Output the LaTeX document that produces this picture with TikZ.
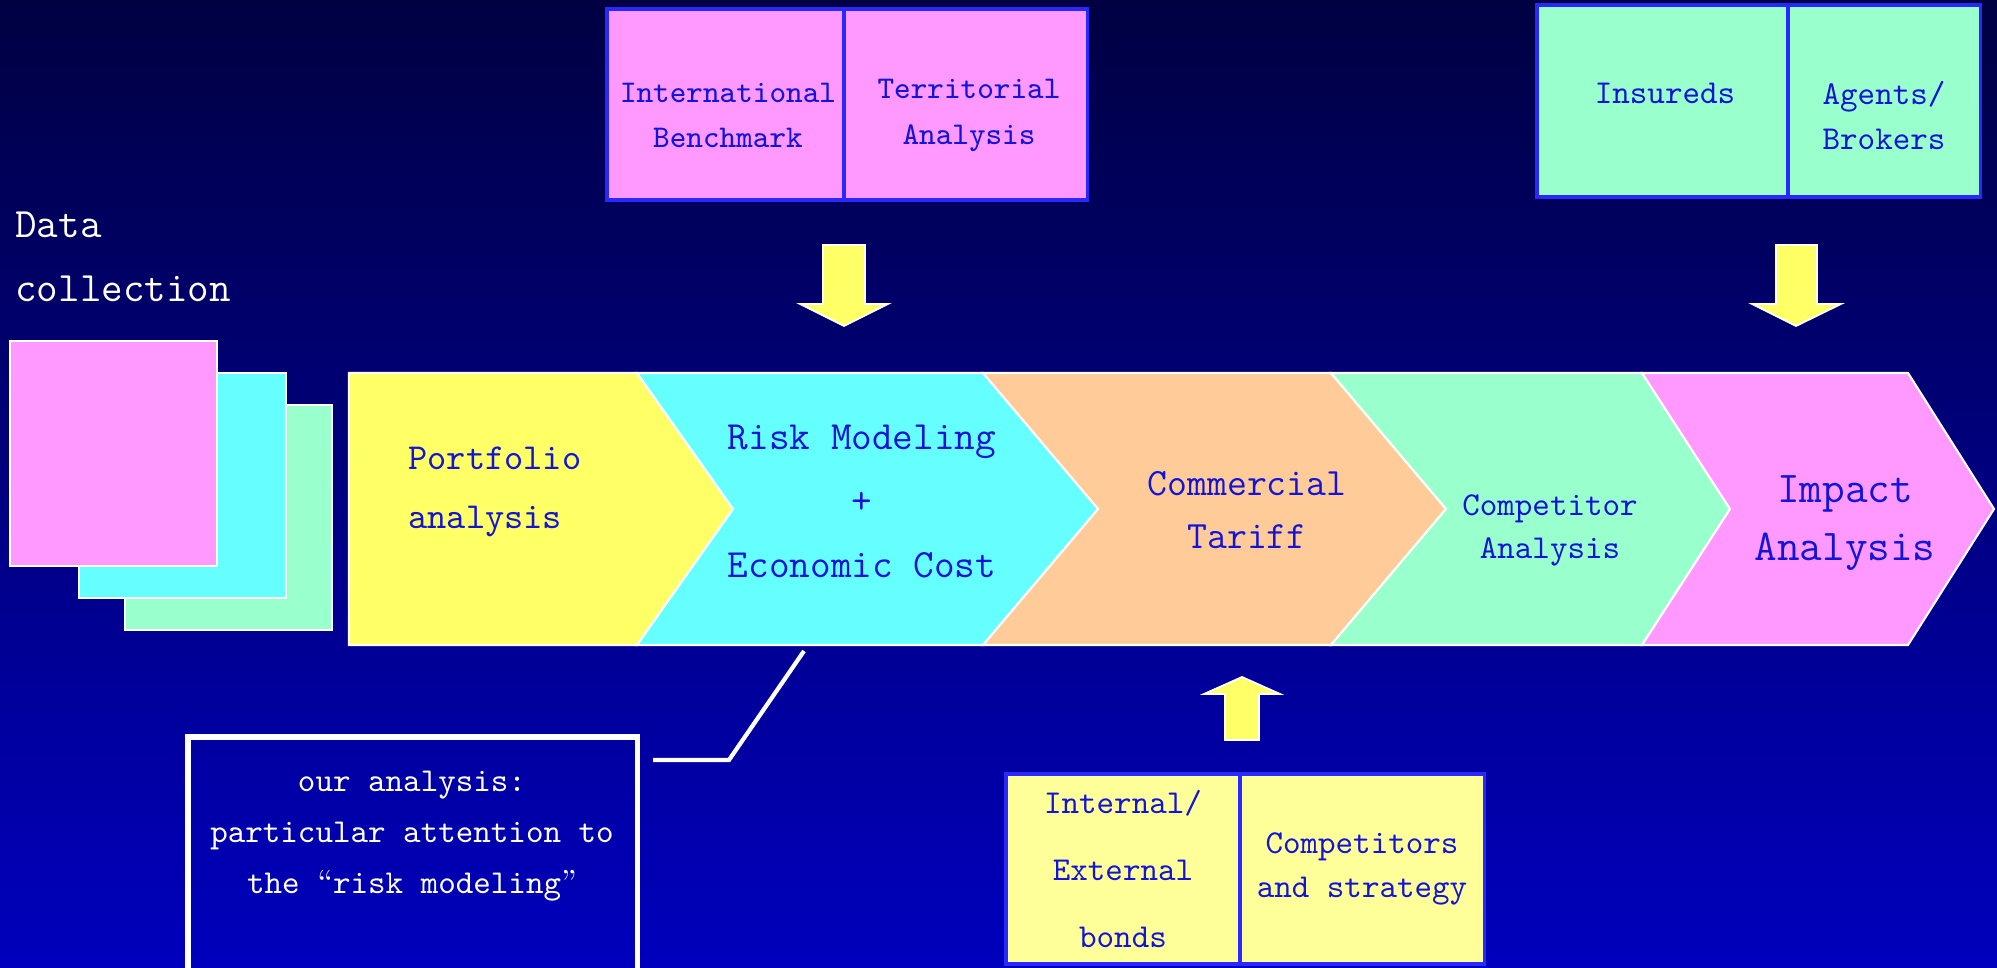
\documentclass[tikz,border=0pt]{standalone}
\usepackage{tikz}
\definecolor{bgtop}{RGB}{0,0,66}
\definecolor{bgmid}{RGB}{0,0,128}
\definecolor{bgbot}{RGB}{0,0,190}
\definecolor{pinkfill}{RGB}{255,153,255}
\definecolor{cyanfill}{RGB}{102,255,255}
\definecolor{yellowfill}{RGB}{255,255,102}
\definecolor{peachfill}{RGB}{255,204,153}
\definecolor{greenfill}{RGB}{153,255,204}
\definecolor{paleyellow}{RGB}{255,255,153}
\definecolor{boxline}{RGB}{40,40,255}
\definecolor{inkblue}{RGB}{20,20,215}

\begin{document}
\begin{tikzpicture}[x=0.01cm, y=-0.01cm,
  chev/.style={draw=white, line width=0.6pt},
  sheet/.style={draw=white, line width=0.8pt},
  blockarrow/.style={draw=white, line width=0.5pt, fill=yellowfill},
  infobox/.style={draw=boxline, line width=0.9pt, inner sep=0pt, text=inkblue, align=center},
  boxtext/.style={text=inkblue, align=center},
  stagetext/.style={text=inkblue, align=center},
  notebox/.style={draw=white, line width=1.5pt, minimum width=4.49cm, minimum height=2.38cm},
  callout/.style={draw=white, line width=1.2pt}]
\useasboundingbox (0,0) rectangle (1997,968);
\shade[top color=bgtop, middle color=bgmid, bottom color=bgbot] (0,0) rectangle (1997,968);

% sources above and below the chain
\node[infobox, fill=pinkfill, minimum width=2.37cm, minimum height=1.91cm] (intl) at (725.5,104.5) {};
\node[infobox, fill=pinkfill, minimum width=2.43cm, minimum height=1.91cm] (terr) at (965.5,104.5) {};
\node[boxtext, font=\ttfamily\fontsize{9pt}{13pt}\selectfont] (intltext) at (728,115.5) {International\\Benchmark};
\node[boxtext, font=\ttfamily\fontsize{9pt}{13pt}\selectfont] (terrtext) at (969,115.5) {Territorial\\Analysis};

\node[infobox, fill=greenfill, minimum width=2.51cm, minimum height=1.92cm] (insured) at (1662.5,101) {};
\node[infobox, fill=greenfill, minimum width=1.92cm, minimum height=1.92cm] (agents) at (1884,101) {};
\node[boxtext, font=\ttfamily\fontsize{9.5pt}{13pt}\selectfont] (insuredtext) at (1665,93) {Insureds};
\node[boxtext, font=\ttfamily\fontsize{9.5pt}{13pt}\selectfont] (agentstext) at (1884,115.5) {Agents/\\Brokers};

\node[infobox, fill=paleyellow, minimum width=2.34cm, minimum height=1.9cm, font=\ttfamily\fontsize{9.5pt}{19pt}\selectfont] (bonds) at (1123,869) {Internal/\\External\\bonds};
\node[infobox, fill=paleyellow, minimum width=2.44cm, minimum height=1.9cm, font=\ttfamily\fontsize{9.5pt}{12.5pt}\selectfont] (rivals) at (1362,869) {Competitors\\and strategy};

% yellow block arrows
\draw[blockarrow] (823,245) -- (865,245) -- (865,304) -- (888,304) -- (844,326) -- (800,304) -- (823,304) -- cycle;
\draw[blockarrow] (1776,245) -- (1817,245) -- (1817,304) -- (1841,304) -- (1796,326) -- (1752,304) -- (1776,304) -- cycle;
\draw[blockarrow] (1225,740) -- (1259,740) -- (1259,694) -- (1280,694) -- (1242,677) -- (1204,694) -- (1225,694) -- cycle;

% data sheets
\node[text=white, anchor=west, align=left, font=\ttfamily\fontsize{11.9pt}{18.2pt}\selectfont] (datalabel) at (3,257) {Data\\collection};
\draw[sheet, fill=greenfill] (125,405) rectangle (332,630);
\draw[sheet, fill=cyanfill] (79,373) rectangle (286,598);
\draw[sheet, fill=pinkfill] (10,341) rectangle (217,566);

% the chain
\draw[chev, fill=yellowfill] (349,373) -- (637,373) -- (733,509) -- (637,645) -- (349,645) -- cycle;
\draw[chev, fill=cyanfill] (637,373) -- (983,373) -- (1098,509) -- (983,645) -- (637,645) -- (733,509) -- cycle;
\draw[chev, fill=peachfill] (983,373) -- (1331,373) -- (1446,509) -- (1331,645) -- (983,645) -- (1098,509) -- cycle;
\draw[chev, fill=greenfill] (1331,373) -- (1642,373) -- (1730,509) -- (1642,645) -- (1331,645) -- (1446,509) -- cycle;
\draw[chev, fill=pinkfill] (1642,373) -- (1908,373) -- (1994,509) -- (1908,645) -- (1642,645) -- (1730,509) -- cycle;

\node[stagetext, anchor=west, align=left, font=\ttfamily\fontsize{10.4pt}{16.8pt}\selectfont] (portfolio) at (396,492) {Portfolio\\analysis};
\node[stagetext, font=\ttfamily\fontsize{11.4pt}{18.2pt}\selectfont] (risk) at (862,502) {Risk Modeling\\+\\Economic Cost};
\node[stagetext, font=\ttfamily\fontsize{11pt}{15pt}\selectfont] (tariff) at (1247,510) {Commercial\\Tariff};
\node[stagetext, font=\ttfamily\fontsize{9.5pt}{12.2pt}\selectfont] (rivalry) at (1550,530) {Competitor\\Analysis};
\node[stagetext, font=\ttfamily\fontsize{12.5pt}{16.5pt}\selectfont] (impact) at (1845,523) {Impact\\Analysis};

% note on risk modeling
\node[notebox] (note) at (412.5,856) {};
\node[text=white, align=center, font=\ttfamily\fontsize{9.5pt}{14.5pt}\selectfont] (notetext) at (412,836) {our analysis:\\particular attention to\\the {\rmfamily“}risk modeling{\rmfamily”}};
\coordinate (tail) at (653,760);
\coordinate (hook) at (804,651);
\draw[callout] (tail) -- (729,760) -- (hook);
\end{tikzpicture}
\end{document}
